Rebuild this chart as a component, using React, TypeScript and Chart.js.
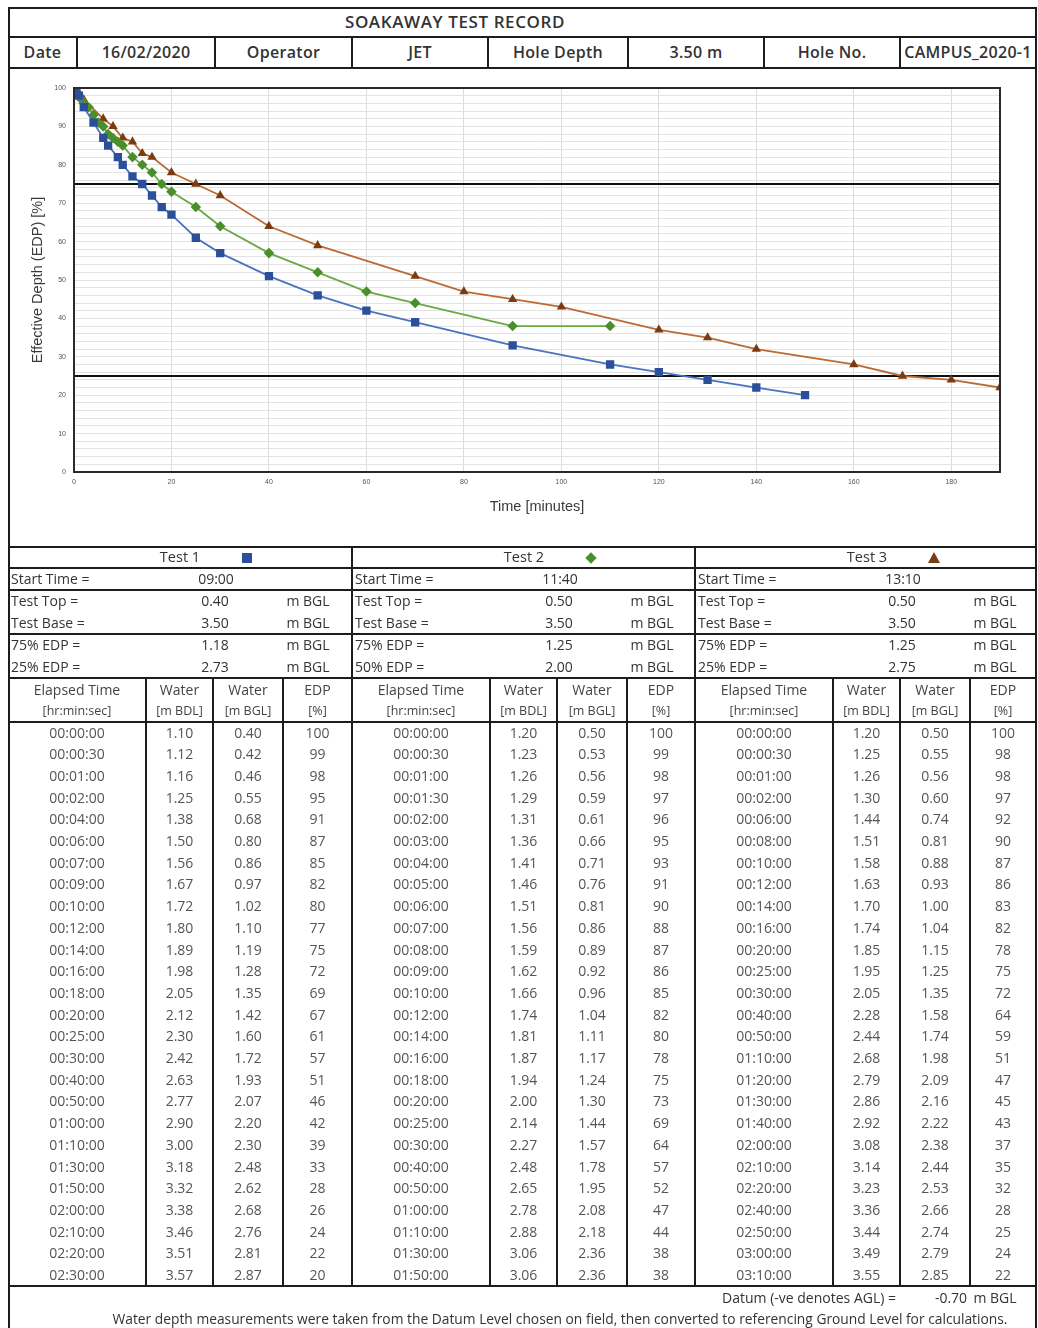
import React, { useEffect, useRef } from "react";
import { Chart, registerables } from "chart.js";

Chart.register(...registerables);

// ---------- DATA ----------
const headerCells = ["Date", "16/02/2020", "Operator", "JET", "Hole Depth", "3.50 m", "Hole No.", "CAMPUS_2020-1"];
const reportTitle = "SOAKAWAY TEST RECORD";

const testNames = ["Test 1", "Test 2", "Test 3"];
const startTimes = ["09:00", "11:40", "13:10"];
const testTops = ["0.40", "0.50", "0.50"];
const testBases = ["3.50", "3.50", "3.50"];
const edpLabelA = ["75% EDP =", "75% EDP =", "75% EDP ="];
const edpValueA = ["1.18", "1.25", "1.25"];
const edpLabelB = ["25% EDP =", "50% EDP =", "25% EDP ="];
const edpValueB = ["2.73", "2.00", "2.75"];

const test1Times = ["00:00:00", "00:00:30", "00:01:00", "00:02:00", "00:04:00", "00:06:00", "00:07:00", "00:09:00", "00:10:00", "00:12:00", "00:14:00", "00:16:00", "00:18:00", "00:20:00", "00:25:00", "00:30:00", "00:40:00", "00:50:00", "01:00:00", "01:10:00", "01:30:00", "01:50:00", "02:00:00", "02:10:00", "02:20:00", "02:30:00"];
const test1BDL = ["1.10", "1.12", "1.16", "1.25", "1.38", "1.50", "1.56", "1.67", "1.72", "1.80", "1.89", "1.98", "2.05", "2.12", "2.30", "2.42", "2.63", "2.77", "2.90", "3.00", "3.18", "3.32", "3.38", "3.46", "3.51", "3.57"];
const test1BGL = ["0.40", "0.42", "0.46", "0.55", "0.68", "0.80", "0.86", "0.97", "1.02", "1.10", "1.19", "1.28", "1.35", "1.42", "1.60", "1.72", "1.93", "2.07", "2.20", "2.30", "2.48", "2.62", "2.68", "2.76", "2.81", "2.87"];
const test1EDP = [100, 99, 98, 95, 91, 87, 85, 82, 80, 77, 75, 72, 69, 67, 61, 57, 51, 46, 42, 39, 33, 28, 26, 24, 22, 20];

const test2Times = ["00:00:00", "00:00:30", "00:01:00", "00:01:30", "00:02:00", "00:03:00", "00:04:00", "00:05:00", "00:06:00", "00:07:00", "00:08:00", "00:09:00", "00:10:00", "00:12:00", "00:14:00", "00:16:00", "00:18:00", "00:20:00", "00:25:00", "00:30:00", "00:40:00", "00:50:00", "01:00:00", "01:10:00", "01:30:00", "01:50:00"];
const test2BDL = ["1.20", "1.23", "1.26", "1.29", "1.31", "1.36", "1.41", "1.46", "1.51", "1.56", "1.59", "1.62", "1.66", "1.74", "1.81", "1.87", "1.94", "2.00", "2.14", "2.27", "2.48", "2.65", "2.78", "2.88", "3.06", "3.06"];
const test2BGL = ["0.50", "0.53", "0.56", "0.59", "0.61", "0.66", "0.71", "0.76", "0.81", "0.86", "0.89", "0.92", "0.96", "1.04", "1.11", "1.17", "1.24", "1.30", "1.44", "1.57", "1.78", "1.95", "2.08", "2.18", "2.36", "2.36"];
const test2EDP = [100, 99, 98, 97, 96, 95, 93, 91, 90, 88, 87, 86, 85, 82, 80, 78, 75, 73, 69, 64, 57, 52, 47, 44, 38, 38];

const test3Times = ["00:00:00", "00:00:30", "00:01:00", "00:02:00", "00:06:00", "00:08:00", "00:10:00", "00:12:00", "00:14:00", "00:16:00", "00:20:00", "00:25:00", "00:30:00", "00:40:00", "00:50:00", "01:10:00", "01:20:00", "01:30:00", "01:40:00", "02:00:00", "02:10:00", "02:20:00", "02:40:00", "02:50:00", "03:00:00", "03:10:00"];
const test3BDL = ["1.20", "1.25", "1.26", "1.30", "1.44", "1.51", "1.58", "1.63", "1.70", "1.74", "1.85", "1.95", "2.05", "2.28", "2.44", "2.68", "2.79", "2.86", "2.92", "3.08", "3.14", "3.23", "3.36", "3.44", "3.49", "3.55"];
const test3BGL = ["0.50", "0.55", "0.56", "0.60", "0.74", "0.81", "0.88", "0.93", "1.00", "1.04", "1.15", "1.25", "1.35", "1.58", "1.74", "1.98", "2.09", "2.16", "2.22", "2.38", "2.44", "2.53", "2.66", "2.74", "2.79", "2.85"];
const test3EDP = [100, 98, 98, 97, 92, 90, 87, 86, 83, 82, 78, 75, 72, 64, 59, 51, 47, 45, 43, 37, 35, 32, 28, 25, 24, 22];

const thresholdLevels = [75, 25];
const xAxisMax = 190;
const xTickStep = 20;
const yTickStep = 2;
const yLabelStep = 10;

const datumLabel = "Datum (-ve denotes AGL) =";
const datumValue = "-0.70";
const noteText = "Water depth measurements were taken from the Datum Level chosen on field, then converted to referencing Ground Level for calculations.";

// ---------- STYLE ----------
const colors = {
  t1Line: "#4a72bf", t1Mark: "#2c4f9c",
  t2Line: "#6aa845", t2Mark: "#4a8f2c",
  t3Line: "#bb6a33", t3Mark: "#7a3c12",
};
const FONT = "'Open Sans', 'Liberation Sans', sans-serif";
const CHART_FONT = "'Liberation Sans', Arial, sans-serif";
const LINE = "#1c1c1c";

const toMinutes = (t: string) => {
  const [h, m, s] = t.split(":").map(Number);
  return h * 60 + m + s / 60;
};

function SoakChart() {
  const ref = useRef<HTMLCanvasElement>(null);
  useEffect(() => {
    if (!ref.current) return;
    const framePlugin = {
      id: "frame",
      afterDraw(chart: any) {
        const { ctx, chartArea } = chart;
        ctx.save();
        ctx.strokeStyle = "#2a2a2a";
        ctx.lineWidth = 2;
        ctx.strokeRect(chartArea.left, chartArea.top, chartArea.right - chartArea.left, chartArea.bottom - chartArea.top);
        ctx.restore();
      },
    };
    const series = (times: string[], edp: number[]) => times.map((t, i) => ({ x: toMinutes(t), y: edp[i] }));
    const thresholds = thresholdLevels.map((lv) => ({
      label: "EDP " + lv,
      data: [{ x: 0, y: lv }, { x: xAxisMax, y: lv }],
      borderColor: "#111",
      borderWidth: 2,
      pointRadius: 0,
      order: 10,
    }));
    const chart = new Chart(ref.current, {
      type: "line",
      data: {
        datasets: [
          ...thresholds,
          {
            label: testNames[0], data: series(test1Times, test1EDP),
            borderColor: colors.t1Line, backgroundColor: colors.t1Mark, pointBorderColor: colors.t1Mark,
            borderWidth: 1.8, pointStyle: "rect", pointRadius: 4.6, order: 1,
          },
          {
            label: testNames[1], data: series(test2Times, test2EDP),
            borderColor: colors.t2Line, backgroundColor: colors.t2Mark, pointBorderColor: colors.t2Mark,
            borderWidth: 1.8, pointStyle: "rectRot", pointRadius: 4, order: 2,
          },
          {
            label: testNames[2], data: series(test3Times, test3EDP),
            borderColor: colors.t3Line, backgroundColor: colors.t3Mark, pointBorderColor: colors.t3Mark,
            borderWidth: 1.8, pointStyle: "triangle", pointRadius: 3.6, order: 3,
          },
        ],
      },
      options: {
        animation: false,
        responsive: false,
        maintainAspectRatio: false,
        layout: { padding: { left: 0, right: 34, top: 18, bottom: 0 } },
        plugins: { legend: { display: false }, tooltip: { enabled: false } },
        scales: {
          x: {
            type: "linear", min: 0, max: xAxisMax,
            afterFit: (s: any) => { s.height = 74; },
            ticks: { stepSize: xTickStep, includeBounds: false, maxRotation: 0, padding: 6, color: "#555", font: { family: CHART_FONT, size: 7 } },
            grid: { color: "#dcdcdc", lineWidth: 1, drawTicks: false },
            border: { color: "#222", width: 2 },
            title: { display: true, text: "Time [minutes]", color: "#3a3a3a", font: { family: CHART_FONT, size: 14.5 }, padding: { top: 0, bottom: 30 } },
          },
          y: {
            min: 0, max: 100,
            afterFit: (s: any) => { s.width = 64; },
            ticks: {
              stepSize: yTickStep, autoSkip: false, padding: 8, color: "#555", font: { family: CHART_FONT, size: 7 },
              callback: (v: any) => (Number(v) % yLabelStep === 0 ? String(v) : ""),
            },
            grid: { color: "#e3e3e3", lineWidth: 1, drawTicks: false },
            border: { color: "#222", width: 2 },
            title: { display: true, text: "Effective Depth (EDP) [%]", color: "#3a3a3a", font: { family: CHART_FONT, size: 14.5 }, padding: { top: 19, bottom: 0 } },
          },
        },
      },
      plugins: [framePlugin],
    } as any);
    return () => chart.destroy();
  }, []);
  return (
    <canvas ref={ref} width={1024} height={476}
      style={{ position: "absolute", left: 10, top: 70, width: 1024, height: 476 }} />
  );
}

// ---------- LAYOUT HELPERS ----------
const L = 8, R = 1036;
function HL({ y, x1 = L, x2 = R, t = 2 }: any) {
  return <div style={{ position: "absolute", left: x1, top: y - t / 2, width: x2 - x1, height: t, background: LINE }} />;
}
function VL({ x, y1, y2, t = 2 }: any) {
  return <div style={{ position: "absolute", left: x - t / 2, top: y1, width: t, height: y2 - y1, background: LINE }} />;
}
function Txt({ cx, cy, left, right, children, size = 14, weight = 400, color = "#4a4a4a", ls = 0 }: any) {
  const style: any = {
    position: "absolute", top: cy - 12, height: 24, lineHeight: "24px", whiteSpace: "nowrap",
    fontFamily: FONT, fontSize: size, fontWeight: weight, color, letterSpacing: ls,
  };
  if (cx !== undefined) { style.left = cx - 600; style.width = 1200; style.textAlign = "center"; }
  else if (left !== undefined) { style.left = left; }
  else if (right !== undefined) { style.left = right - 600; style.width = 600; style.textAlign = "right"; }
  return <div style={style}>{children}</div>;
}

const headerCols = [8, 77, 215, 352, 488, 628, 764, 900, 1036];
const groupStarts = [8, 352, 695];
const groupEnds = [352, 695, 1036];
const dataColOffsets = [[146, 213, 283], [490, 557, 627], [833, 900, 970]];

function Icon({ kind, cx, cy }: any) {
  if (kind === 0) return <div style={{ position: "absolute", left: cx - 5, top: cy - 5, width: 10, height: 10, background: colors.t1Mark }} />;
  if (kind === 1) return <div style={{ position: "absolute", left: cx - 4, top: cy - 4, width: 8, height: 8, background: colors.t2Mark, transform: "rotate(45deg)" }} />;
  return <div style={{ position: "absolute", left: cx - 6, top: cy - 6, width: 0, height: 0, borderLeft: "6px solid transparent", borderRight: "6px solid transparent", borderBottom: `11px solid ${colors.t3Mark}` }} />;
}

export default function App() {
  const groups = [
    { times: test1Times, bdl: test1BDL, bgl: test1BGL, edp: test1EDP },
    { times: test2Times, bdl: test2BDL, bgl: test2BGL, edp: test2EDP },
    { times: test3Times, bdl: test3BDL, bgl: test3BGL, edp: test3EDP },
  ];
  const rowTop = 722, rowH = 21.7;
  const els: any[] = [];

  // Title & header
  els.push(<Txt key="title" cx={455} cy={22} size={17} weight={600} color="#333" ls={0.6}>{reportTitle}</Txt>);
  headerCells.forEach((h, i) => {
    const cx = (headerCols[i] + headerCols[i + 1]) / 2;
    els.push(<Txt key={"h" + i} cx={cx} cy={52} size={16} weight={600} color="#333" ls={0.3}>{h}</Txt>);
  });

  groups.forEach((g, gi) => {
    const gs = groupStarts[gi], ge = groupEnds[gi];
    els.push(<Txt key={"tn" + gi} cx={gs + 172} cy={557} size={14.5} color="#333">{testNames[gi]}</Txt>);
    els.push(<Icon key={"ic" + gi} kind={gi} cx={gs + 239} cy={558} />);
    els.push(<Txt key={"st" + gi} left={gs + 3} cy={579} color="#333">Start Time =</Txt>);
    els.push(<Txt key={"stv" + gi} cx={gs + 208} cy={579} color="#333">{startTimes[gi]}</Txt>);
    const info = [
      ["Test Top =", testTops[gi], 601],
      ["Test Base =", testBases[gi], 623],
      [edpLabelA[gi], edpValueA[gi], 645],
      [edpLabelB[gi], edpValueB[gi], 667],
    ];
    info.forEach(([lab, val, y]: any, k) => {
      els.push(<Txt key={`in${gi}-${k}a`} left={gs + 3} cy={y} color="#333">{lab}</Txt>);
      els.push(<Txt key={`in${gi}-${k}b`} cx={gs + 207} cy={y} color="#333">{val}</Txt>);
      els.push(<Txt key={`in${gi}-${k}c`} cx={gs + 300} cy={y} color="#333">m BGL</Txt>);
    });
    const cols = [gs, ...dataColOffsets[gi], ge];
    const heads = [["Elapsed Time", "[hr:min:sec]"], ["Water", "[m BDL]"], ["Water", "[m BGL]"], ["EDP", "[%]"]];
    heads.forEach((hh, ci) => {
      const cx = (cols[ci] + cols[ci + 1]) / 2;
      els.push(<Txt key={`hd${gi}-${ci}a`} cx={cx} cy={690} color="#444">{hh[0]}</Txt>);
      els.push(<Txt key={`hd${gi}-${ci}b`} cx={cx} cy={711} size={12.5} color="#444">{hh[1]}</Txt>);
    });
    g.times.forEach((t, ri) => {
      const cy = rowTop + rowH * ri + 10.5;
      const vals = [t, g.bdl[ri], g.bgl[ri], String(g.edp[ri])];
      vals.forEach((v, ci) => {
        const cx = (cols[ci] + cols[ci + 1]) / 2;
        els.push(<Txt key={`d${gi}-${ri}-${ci}`} cx={cx} cy={cy} color="#555">{v}</Txt>);
      });
    });
  });

  els.push(<Txt key="datum" right={896} cy={1298} color="#333">{datumLabel}</Txt>);
  els.push(<Txt key="datumv" cx={951} cy={1298} color="#333">{datumValue}</Txt>);
  els.push(<Txt key="datumu" cx={995} cy={1298} color="#333">m BGL</Txt>);
  els.push(<Txt key="note" cx={560} cy={1319} size={13.8} color="#333">{noteText}</Txt>);

  // Lines
  const lines: any[] = [];
  [8, 37, 68, 547, 568, 590, 634, 678, 722, 1286].forEach((y, i) => lines.push(<HL key={"hl" + i} y={y} />));
  lines.push(<VL key="vl-l" x={L + 1} y1={7} y2={1328} />);
  lines.push(<VL key="vl-r" x={R} y1={7} y2={1328} />);
  headerCols.slice(1, -1).forEach((x, i) => lines.push(<VL key={"hc" + i} x={x} y1={37} y2={68} />));
  [352, 695].forEach((x, i) => lines.push(<VL key={"gd" + i} x={x} y1={547} y2={1286} />));
  dataColOffsets.flat().forEach((x, i) => lines.push(<VL key={"dc" + i} x={x} y1={678} y2={1286} />));

  return (
    <div style={{ position: "absolute", left: 0, top: 0, width: 1038, height: 1328, background: "#fff", overflow: "hidden" }}>
      <SoakChart />
      {els}
      {lines}
    </div>
  );
}
